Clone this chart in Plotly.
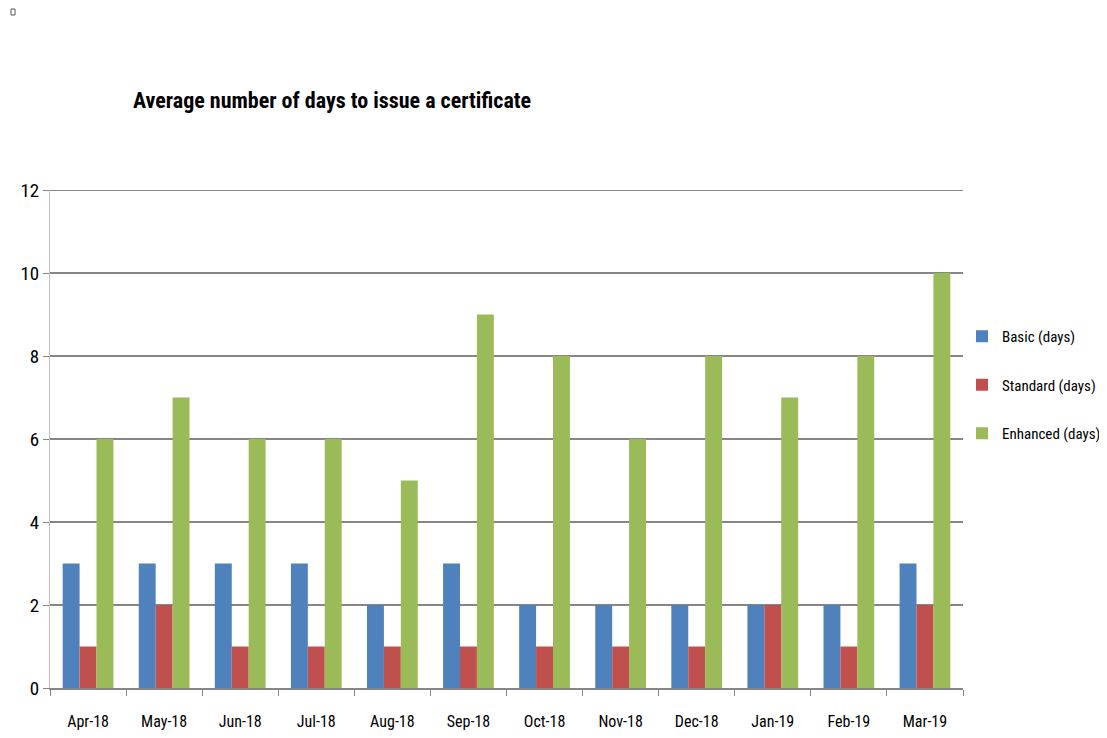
import plotly.graph_objects as go

months = ["Apr-18", "May-18", "Jun-18", "Jul-18", "Aug-18", "Sep-18",
          "Oct-18", "Nov-18", "Dec-18", "Jan-19", "Feb-19", "Mar-19"]
basic = [3, 3, 3, 3, 2, 3, 2, 2, 2, 2, 2, 3]
standard = [1, 2, 1, 1, 1, 1, 1, 1, 1, 2, 1, 2]
enhanced = [6, 7, 6, 6, 5, 9, 8, 6, 8, 7, 8, 10]

series = [("Basic (days)", basic, "#4F81BD"),
          ("Standard (days)", standard, "#C0504D"),
          ("Enhanced (days)", enhanced, "#9BBB59")]

FONT = "Liberation Sans Narrow, Roboto Condensed, DejaVu Sans Condensed, Roboto, sans-serif"

# page body has an 8px margin; figure coordinates are screen minus 8
OFF = 8
W, H = 1107, 738
L = 50 - OFF
T = 190 - OFF
R = W - (963 - OFF)
B = H - (688 - OFF)
PW, PH = W - L - R, H - T - B

fig = go.Figure()
for name, vals, col in series:
    fig.add_trace(go.Bar(x=months, y=vals, name=name, legendgroup=name,
                         marker=dict(color=col, line=dict(width=0))))

fig.update_layout(
    width=W, height=H,
    paper_bgcolor="white", plot_bgcolor="white",
    margin=dict(l=L, r=R, t=T, b=B, autoexpand=False),
    barmode="group", bargap=0.333, bargroupgap=0,
    font=dict(family=FONT, color="black"),
    title=dict(text="<b>Average number of days to issue a certificate</b>",
               x=(133 - OFF) / W, xanchor="left", y=1 - 92 / H, yanchor="middle",
               font=dict(size=22, family=FONT)),
    legend=dict(x=(962 - OFF - L) / PW, xanchor="left",
                y=(688 - OFF - 312) / PH, yanchor="top",
                font=dict(size=15), tracegroupgap=26, itemwidth=30,
                bgcolor="rgba(0,0,0,0)"),
    showlegend=True,
)
fig.update_xaxes(showline=True, linecolor="#868686", linewidth=2,
                 ticks="outside", tickson="boundaries", ticklen=6,
                 tickcolor="#868686", tickwidth=1, automargin=False,
                 ticklabelstandoff=18,
                 tickfont=dict(size=16), showgrid=False)
fig.update_yaxes(range=[0, 12], dtick=2, showgrid=True, gridcolor="#868686",
                 gridwidth=2, showline=True, linecolor="#BFBFBF", linewidth=1,
                 ticks="outside", ticklen=6, tickcolor="#868686", automargin=False,
                 tickfont=dict(size=19), zeroline=False)

# top gridline at 12
fig.add_shape(type="line", xref="paper", yref="y", x0=0, x1=1, y0=12, y1=12,
              line=dict(color="#868686", width=2), layer="below")

# small marker square in the corner
fig.add_shape(type="rect", xref="paper", yref="paper",
              x0=(11 - 50) / PW, x1=(15 - 50) / PW,
              y0=(688 - 15) / PH, y1=(688 - 9) / PH,
              line=dict(color="#555555", width=1))

fig.write_html("out.html")
